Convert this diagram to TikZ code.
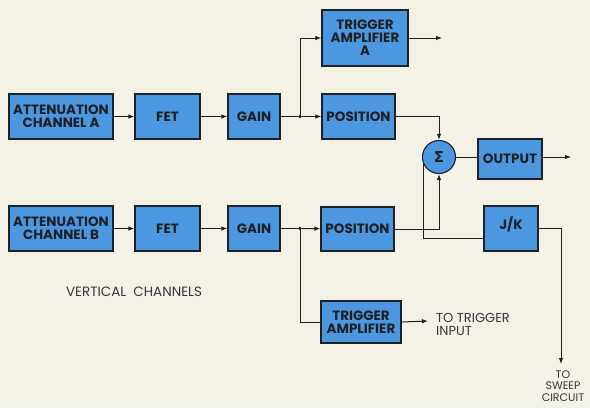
\documentclass[tikz,border=0pt]{standalone}
\usepackage{fontspec}
\setmainfont{Poppins}
\newfontfamily\boxfont{Poppins}
\newfontfamily\symfont{DejaVu Sans}
\usetikzlibrary{arrows.meta,calc}
\definecolor{boxblue}{RGB}{76,152,224}
\definecolor{paper}{RGB}{244,241,231}
\definecolor{ink}{RGB}{30,32,38}
\begin{document}
\begin{tikzpicture}[x=1pt,y=-1pt,
  blk/.style={draw=ink, fill=boxblue, line width=1.1pt, inner sep=1pt, align=center,
     font=\boxfont\bfseries\fontsize{13.5}{13}\selectfont, text=ink},
  wire/.style={draw=ink, line width=1pt},
  arr/.style={wire, -{Latex[length=6pt,width=4.5pt]}},
  dot/.style={circle, fill=ink, inner sep=0pt, minimum size=3.6pt},
  lbl/.style={font=\fontsize{13}{13}\selectfont, text=ink!90, inner sep=0pt}]
\fill[paper] (0,0) rectangle (590,408);
\useasboundingbox (0,0) rectangle (590,408);
% channel A
\node[blk, minimum width=104pt, minimum height=45pt] (attA) at (61,116.5) {ATTENUATION\\CHANNEL A};
\node[blk, minimum width=65pt, minimum height=45pt] (fetA) at (167.5,116.5) {FET};
\node[blk, minimum width=52pt, minimum height=45pt] (gainA) at (254,116.5) {GAIN};
\node[blk, minimum width=86pt, minimum height=56pt] (trA) at (365,38) {TRIGGER\\AMPLIFIER\\A};
\node[blk, minimum width=73pt, minimum height=45pt] (posA) at (358.5,116.5) {POSITION};
% sum and output
\node[blk, circle, minimum size=33pt, inner sep=0pt, font=\symfont\bfseries\fontsize{15}{15}\selectfont] (sig) at (439,157) {Σ};
\node[blk, minimum width=64pt, minimum height=40pt] (out) at (510,159) {OUTPUT};
% channel B
\node[blk, minimum width=104pt, minimum height=45pt] (attB) at (61,228.5) {ATTENUATION\\CHANNEL B};
\node[blk, minimum width=65pt, minimum height=45pt] (fetB) at (167.5,228.5) {FET};
\node[blk, minimum width=52pt, minimum height=45pt] (gainB) at (254,228.5) {GAIN};
\node[blk, minimum width=73pt, minimum height=44pt] (posB) at (357.5,229) {POSITION};
\node[blk, minimum width=54pt, minimum height=45pt] (jk) at (511,228.5) {J/K\\[-2pt]{}};
\node[blk, minimum width=80pt, minimum height=42pt] (trB) at (361,322) {TRIGGER\\AMPLIFIER};
% junctions and free ends
\node[dot] (jA) at (300,116.5) {};
\node[dot] (jB) at (300,228.5) {};
\coordinate (trAout) at (442,38);
\coordinate (outend) at (571,157);
\coordinate (jkin) at (484,238);
\coordinate (sweep) at (561,364);
\coordinate (trBout) at (428,321);
% channel A wiring
\draw[arr] (attA) -- (fetA);
\draw[arr] (fetA) -- (gainA);
\draw[wire] (gainA) -- (jA);
\draw[arr] (jA) -- (posA);
\draw[arr] (jA.center) |- (trA.west);
\draw[arr] (trA.east) -- (trAout);
\draw[arr] (posA.east) -| (sig.north);
\draw[wire] (sig.east) -- (out.west |- sig.east);
\draw[arr] (out.east |- sig.east) -- (outend);
% channel B wiring
\draw[arr] (attB) -- (fetB);
\draw[arr] (fetB) -- (gainB);
\draw[wire] (gainB) -- (jB);
\draw[arr] (jB) -- (posB);
\draw[wire] (jB.center) |- (trB.west);
\draw[arr] (trB.east) -- (trBout);
\draw[arr] (posB.east) -| (sig.south);
\draw[wire] (sig.205) -- (sig.205 |- jkin) -- (jkin);
\draw[arr] (jk.east) -| (sweep);
% labels
\node[lbl, anchor=west, align=left] (tti) at (436,324) {TO TRIGGER\\INPUT};
\node[lbl, align=center, font=\fontsize{11}{11.8}\selectfont] (tsc) at (563,386) {TO\\SWEEP\\CIRCUIT};
\node[lbl, font=\fontsize{13.5}{13.5}\selectfont] (vc) at (134,292) {VERTICAL\ \ CHANNELS};
\end{tikzpicture}
\end{document}
